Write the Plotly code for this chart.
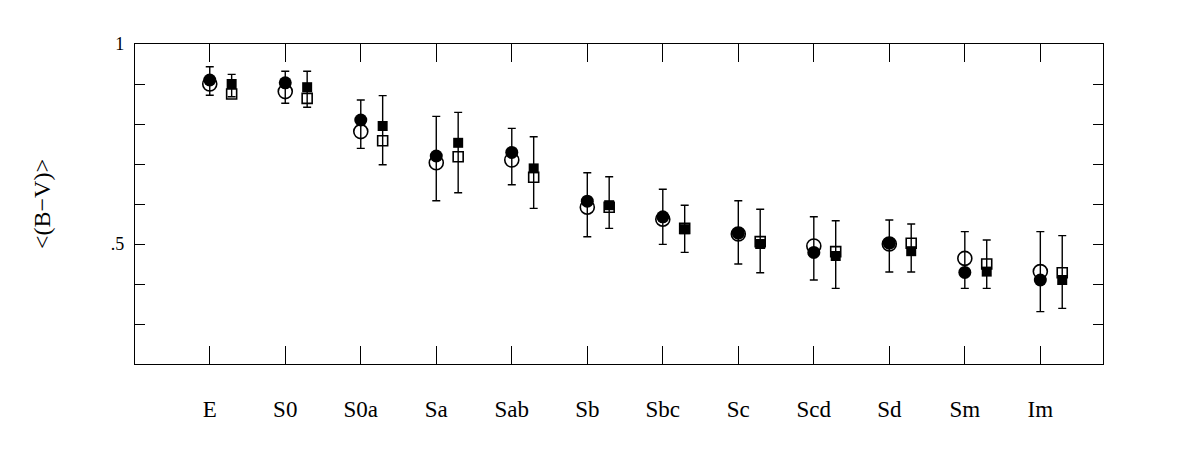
import plotly.graph_objects as go

categories = ["E", "S0", "S0a", "Sa", "Sab", "Sb", "Sbc", "Sc", "Scd", "Sd", "Sm", "Im"]

# circles (left position)
circ_filled = [0.910, 0.903, 0.810, 0.720, 0.729, 0.607, 0.568, 0.527, 0.479, 0.502, 0.429, 0.410]
circ_open   = [0.900, 0.881, 0.781, 0.703, 0.710, 0.592, 0.562, 0.525, 0.495, 0.500, 0.464, 0.431]
circ_top    = [0.943, 0.932, 0.860, 0.819, 0.789, 0.678, 0.637, 0.608, 0.568, 0.560, 0.531, 0.531]
circ_bot    = [0.872, 0.852, 0.739, 0.608, 0.648, 0.518, 0.499, 0.450, 0.410, 0.430, 0.389, 0.331]

# squares (right position)
sq_filled = [0.900, 0.892, 0.795, 0.753, 0.689, 0.597, 0.537, 0.500, 0.470, 0.482, 0.431, 0.410]
sq_open   = [0.875, 0.864, 0.758, 0.718, 0.667, 0.592, 0.539, 0.506, 0.481, 0.502, 0.450, 0.428]
sq_top    = [0.924, 0.932, 0.871, 0.829, 0.768, 0.668, 0.597, 0.587, 0.558, 0.550, 0.510, 0.521]
sq_bot    = [0.868, 0.842, 0.698, 0.628, 0.589, 0.539, 0.479, 0.428, 0.389, 0.430, 0.389, 0.339]

ytick_vals = [0.3, 0.4, 0.5, 0.6, 0.7, 0.8, 0.9, 1.0]
ytick_text = ["", "", ".5", "", "", "", "", "1"]

x_c = list(range(len(categories)))
x_s = [i + 0.29 for i in x_c]

fig = go.Figure()

def errbar_trace(x, y, top, bot):
    return go.Scatter(
        x=x, y=y, mode="markers",
        marker=dict(size=6, color="rgba(0,0,0,0)"),
        error_y=dict(type="data", symmetric=False,
                     array=[t - v for t, v in zip(top, y)],
                     arrayminus=[v - b for v, b in zip(y, bot)],
                     color="black", thickness=1.4, width=4),
        showlegend=False, hoverinfo="skip")

fig.add_trace(errbar_trace(x_c, circ_filled, circ_top, circ_bot))
fig.add_trace(errbar_trace(x_s, sq_filled, sq_top, sq_bot))

fig.add_trace(go.Scatter(x=x_c, y=circ_open, mode="markers",
                         marker=dict(symbol="circle-open", size=14, color="black",
                                     line=dict(color="black", width=1.6)),
                         showlegend=False))
fig.add_trace(go.Scatter(x=x_s, y=sq_open, mode="markers",
                         marker=dict(symbol="square-open", size=10, color="black",
                                     line=dict(color="black", width=1.6)),
                         showlegend=False))
fig.add_trace(go.Scatter(x=x_c, y=circ_filled, mode="markers",
                         marker=dict(symbol="circle", size=13, color="black",
                                     line=dict(color="black", width=0)),
                         showlegend=False))
fig.add_trace(go.Scatter(x=x_s, y=sq_filled, mode="markers",
                         marker=dict(symbol="square", size=10, color="black",
                                     line=dict(color="black", width=0)),
                         showlegend=False))

fig.update_layout(
    width=1179, height=452,
    margin=dict(l=127, r=84, t=36, b=96),
    paper_bgcolor="white", plot_bgcolor="white",
    font=dict(family="Liberation Serif", color="black"),
    xaxis=dict(range=[-0.99, 11.83], tickmode="array", tickvals=x_c, ticktext=categories,
               ticks="inside", ticklen=18, tickwidth=1.4, tickcolor="black",
               showline=True, linecolor="black", linewidth=1.4, mirror="ticks",
               showgrid=False, zeroline=False, tickfont=dict(size=23),
               ticklabelstandoff=24),
    yaxis=dict(range=[0.2, 1.0], tickmode="array", tickvals=ytick_vals, ticktext=ytick_text,
               ticks="inside", ticklen=10, tickwidth=1.4, tickcolor="black",
               showline=True, linecolor="black", linewidth=1.4, mirror="ticks",
               showgrid=False, zeroline=False, tickfont=dict(size=18),
               ticklabelstandoff=6),
    annotations=[dict(text="<(B\u2212V)>", xref="paper", yref="paper",
                      x=(34 - 127) / 968, y=0.5, showarrow=False, textangle=-90,
                      font=dict(size=24, family="Liberation Serif"),
                      xanchor="center", yanchor="middle")],
)

fig.write_html("out.html")
